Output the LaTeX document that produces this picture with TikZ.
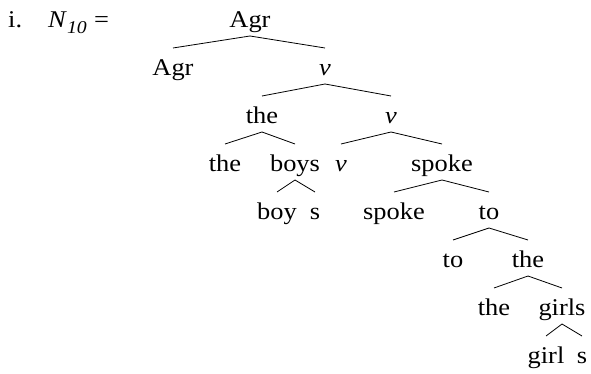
\documentclass[tikz,border=0pt]{standalone}
\usepackage{fontspec}
\setmainfont{Liberation Serif}[FakeStretch=1.1]
\begin{document}
\begin{tikzpicture}[x=1pt,y=1pt,
  lbl/.style={anchor=base,inner sep=0pt,font=\fontsize{24}{28}\selectfont},
  br/.style={line width=0.8pt}]
\useasboundingbox (0,0) rectangle (591,374);
% header
\node[lbl,anchor=base west] (num) at (8,346) {i.};
\node[lbl,anchor=base west] (eq) at (48,346) {\textit{N}\raisebox{-0.22em}{\fontsize{18}{20}\selectfont\textit{10}}\hspace{0.3em}=};
% nodes
\node[lbl] (a0) at (250,346) {Agr};
\node[lbl] (a1) at (173,298) {Agr};
\node[lbl] (v1) at (325,298) {\textit{v}};
\node[lbl] (t2) at (262,250) {the};
\node[lbl] (v2) at (391,250) {\textit{v}};
\node[lbl] (t3) at (225,202) {the};
\node[lbl] (b3) at (295,202) {boys};
\node[lbl] (v3) at (341,202) {\textit{v}};
\node[lbl] (s3) at (442,202) {spoke};
\node[lbl] (b4) at (277,154) {boy};
\node[lbl] (s4) at (315,154) {s};
\node[lbl] (sp4) at (394,154) {spoke};
\node[lbl] (to4) at (489,154) {to};
\node[lbl] (to5) at (453,106) {to};
\node[lbl] (th5) at (528,106) {the};
\node[lbl] (th6) at (494,58) {the};
\node[lbl] (g6) at (562,58) {girls};
\node[lbl] (g7) at (546,10) {girl};
\node[lbl] (s7) at (582,10) {s};
% branches
\foreach \p/\c in {a0/a1,a0/v1,v1/t2,v1/v2,t2/t3,t2/b3,v2/v3,v2/s3,b3/b4,b3/s4,s3/sp4,s3/to4,to4/to5,to4/th5,th5/th6,th5/g6,g6/g7,g6/s7}
  \draw[br] ([yshift=-8pt]\p.base) -- ([yshift=28pt]\c.base);
\end{tikzpicture}
\end{document}
